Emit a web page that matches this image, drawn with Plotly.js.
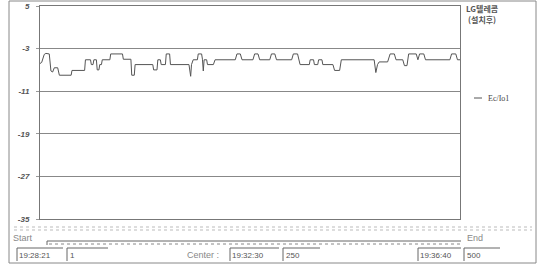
<!DOCTYPE html>
<html>
<head>
<meta charset="utf-8">
<script src="https://cdn.plot.ly/plotly-3.0.1.min.js"></script>
<style>html,body{margin:0;padding:0;background:#fff;}#chart{width:540px;height:265px;}</style>
</head>
<body>
<div id="chart"></div>
<script>
// ---- data ----
const sampleIdx = [1,3,6,8,12,14,16,18,22,24,38,39,54,55,61,62,64,65,68,69,71,72,74,75,84,85,99,100,109,110,113,114,135,136,140,141,144,145,150,151,155,156,
  178,180,181,183,188,189,193,194,195,196,199,200,207,209,233,235,239,241,254,256,260,262,274,276,280,282,300,302,307,310,321,322,326,327,331,332,336,337,349,351,357,359,
  398,400,402,404,414,417,422,424,432,434,437,439,448,450,452,457,459,488,490,495,497,500];
const ecIo = [-5.8,-5.6,-4.1,-3.9,-4.0,-7.2,-7.4,-6.6,-6.6,-8.0,-8.0,-7.1,-7.1,-5.1,-5.1,-6.0,-6.0,-5.1,-5.1,-7.0,-7.0,-6.0,-6.0,-5.1,-5.1,-4.0,-4.0,-5.0,-5.0,-8.0,-8.0,-6.0,-6.0,-7.0,-7.0,-5.1,-5.1,-6.0,-6.0,-4.0,-4.0,-6.0,
  -6.0,-8.2,-6.0,-5.1,-5.1,-4.0,-4.0,-5.0,-7.2,-5.1,-5.1,-6.0,-6.0,-5.1,-5.1,-4.0,-4.0,-5.1,-5.1,-4.0,-4.0,-5.1,-5.1,-4.0,-4.0,-5.1,-5.1,-4.0,-4.0,-6.0,-6.0,-5.1,-5.1,-6.0,-6.0,-5.1,-5.1,-6.0,-6.0,-7.1,-7.1,-5.1,
  -5.1,-7.5,-6.0,-5.5,-5.5,-4.0,-4.0,-5.1,-5.1,-6.2,-6.2,-4.0,-4.0,-5.1,-4.0,-4.0,-5.1,-5.1,-4.0,-4.0,-5.1,-5.1];
const yTickVals = [5,-3,-11,-19,-27,-35];
const yTickText = ['5','-3','-11','-19','-27','-35'];
const seriesName = 'Ec/Io1';
const legendTitle1 = 'LG텔레콤';
const legendTitle2 = '(설치후)';
const startTime = '19:28:21', startIdx = '1';
const centerTime = '19:32:30', centerIdx = '250';
const endTime = '19:36:40', endIdx = '500';

// ---- layout helpers (pixel -> paper) ----
const L = 40, R = 460, T = 6, B = 219;
const px = x => (x - L) / (R - L);
const py = y => (B - y) / (B - T);
const gray = '#555';
const lineShape = (x0,y0,x1,y1,color,width,dash) => ({type:'line',xref:'paper',yref:'paper',
  x0:px(x0),y0:py(y0),x1:px(x1),y1:py(y1),line:{color:color||gray,width:width||1,dash:dash||'solid'}});
const txt = (text,x,y,opts) => Object.assign({text:text,xref:'paper',yref:'paper',x:px(x),y:py(y),
  showarrow:false,xanchor:'left',yanchor:'middle',borderpad:0,font:{family:'Liberation Sans, Arial',size:9,color:'#666'}}, opts||{});

const shapes = [
  // outer frame
  {type:'rect',xref:'paper',yref:'paper',x0:px(9),y0:py(1),x1:px(536),y1:py(263),line:{color:'#888',width:1}},
  // faint dotted band
  lineShape(14,227,532,227,'#bbb',1,'dot'),
  lineShape(14,230,532,230,'#bbb',1,'dot'),
  // scale line
  lineShape(47,241,461,241,'#666',1),
  lineShape(47,241,47,245,'#666',1),
  lineShape(49,244,461,244,'#888',1,'dot'),
  // legend sample
  lineShape(474,98,482,98,gray,1),
  // sunken boxes: top+left edges
  lineShape(17,248,63,248,'#666',1), lineShape(17,248,17,261,'#666',1),
  lineShape(67,248,108,248,'#666',1), lineShape(67,248,67,261,'#666',1),
  lineShape(230,248,279,248,'#666',1), lineShape(230,248,230,261,'#666',1),
  lineShape(283,248,320,248,'#666',1), lineShape(283,248,283,261,'#666',1),
  lineShape(418,248,461,248,'#666',1), lineShape(418,248,418,261,'#666',1),
  lineShape(464,248,500,248,'#666',1), lineShape(464,248,464,261,'#666',1)
];

const mono = {family:'Liberation Sans, Arial',size:8,color:'#555'};
const cjk = {family:'Noto Sans CJK KR',size:8,color:'#555',weight:700};
const annotations = [
  txt(legendTitle1,482,8,{xanchor:'center',font:cjk}),
  txt(legendTitle2,482,19,{xanchor:'center',font:cjk}),
  txt(seriesName,487,98,{font:{family:'Liberation Serif, Times New Roman',size:8,color:'#444'}}),
  txt('Start',12,238,{font:{family:'Liberation Sans, Arial',size:9,color:'#888'}}),
  txt('End',466,238,{font:{family:'Liberation Sans, Arial',size:9,color:'#888'}}),
  txt('Center :',186,255,{font:{family:'Liberation Sans, Arial',size:9,color:'#888'}}),
  txt(startTime,18,255,{font:mono}),
  txt(startIdx,69,255,{font:mono}),
  txt(centerTime,231,255,{font:mono}),
  txt(centerIdx,285,255,{font:mono}),
  txt(endTime,419,255,{font:mono}),
  txt(endIdx,466,255,{font:mono})
];

const trace = {x: sampleIdx, y: ecIo, type:'scatter', mode:'lines', name: seriesName,
  line:{color:'#555', width:1}, showlegend:false, hoverinfo:'skip'};

const layout = {
  width:540, height:265,
  margin:{l:L, r:540-R, t:T, b:265-B, pad:0},
  paper_bgcolor:'#fff', plot_bgcolor:'#fff',
  showlegend:false,
  xaxis:{range:[1,500], showgrid:false, zeroline:false, showticklabels:false, ticks:'',
    showline:true, mirror:true, linecolor:'#777', linewidth:1, fixedrange:true},
  yaxis:{range:[-35,5], tickvals:yTickVals, ticktext:yTickText, showgrid:true, gridcolor:'#888', gridwidth:1,
    zeroline:false, showline:true, mirror:true, linecolor:'#777', linewidth:1, ticks:'outside', ticklen:3, tickcolor:'#999',
    ticklabelstandoff:5,
    tickfont:{family:'Liberation Sans, Arial', size:8, color:'#555', style:'italic', weight:700}, fixedrange:true},
  shapes: shapes,
  annotations: annotations
};

Plotly.newPlot('chart', [trace], layout, {displayModeBar:false, staticPlot:true});
</script>
</body>
</html>
